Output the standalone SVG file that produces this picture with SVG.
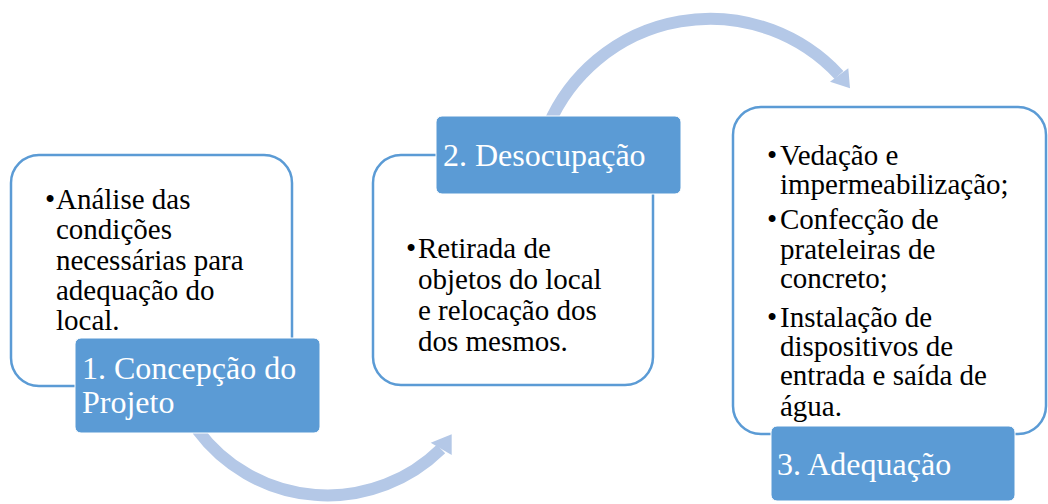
<svg xmlns="http://www.w3.org/2000/svg" width="1048" height="504" viewBox="0 0 1048 504">
  <style>
    .card { fill: #ffffff; stroke: #5B9BD5; stroke-width: 2.5; }
    .label { fill: #5B9BD5; stroke: #ffffff; stroke-width: 1; }
    .body { font-family: "Liberation Serif", "Times New Roman", serif; font-size: 29px; fill: #000000; }
    .title { font-family: "Liberation Serif", "Times New Roman", serif; font-size: 32px; fill: #ffffff; }
    .arc { fill: none; stroke: #B4C8E7; stroke-width: 12; stroke-linecap: butt; }
    .head { fill: #B4C8E7; }
  </style>
  <rect width="1048" height="504" fill="#ffffff"/>
  <g id="connectors">
    <path class="arc" d="M 548.5 125 A 176 176 0 0 1 839 75"/>
    <polygon class="head" points="830,81.7 848.3,68.3 850,88.3"/>
    <path class="arc" d="M 197.5 430 A 162 162 0 0 0 441 449"/>
    <polygon class="head" points="430.7,442.7 451.7,434.3 451.7,455"/>
  </g>
  <g id="node1">
    <rect class="card" x="11" y="155" width="281" height="231" rx="28"/>
    <text class="body" x="45" y="209">•<tspan x="56">Análise das</tspan></text>
    <text class="body" x="56" y="239">condições</text>
    <text class="body" x="56" y="270">necessárias para</text>
    <text class="body" x="56" y="300">adequação do</text>
    <text class="body" x="56" y="330">local.</text>
    <rect class="label" x="75" y="338" width="245" height="95" rx="6"/>
    <text class="title" x="82" y="379">1. Concepção do</text>
    <text class="title" x="82" y="413">Projeto</text>
  </g>
  <g id="node2">
    <rect class="card" x="373" y="155" width="280" height="230" rx="28"/>
    <text class="body" x="406" y="258">•<tspan x="418">Retirada de</tspan></text>
    <text class="body" x="418" y="289">objetos do local</text>
    <text class="body" x="418" y="320">e relocação dos</text>
    <text class="body" x="418" y="351">dos mesmos.</text>
    <rect class="label" x="436" y="116" width="245" height="78" rx="6"/>
    <text class="title" x="443" y="166">2. Desocupação</text>
  </g>
  <g id="node3">
    <rect class="card" x="733" y="107" width="313" height="327" rx="28"/>
    <text class="body" x="767" y="165">•<tspan x="780">Vedação e</tspan></text>
    <text class="body" x="780" y="194">impermeabilização;</text>
    <text class="body" x="767" y="229">•<tspan x="780">Confecção de</tspan></text>
    <text class="body" x="780" y="259">prateleiras de</text>
    <text class="body" x="780" y="288">concreto;</text>
    <text class="body" x="767" y="327">•<tspan x="780">Instalação de</tspan></text>
    <text class="body" x="780" y="356">dispositivos de</text>
    <text class="body" x="780" y="385">entrada e saída de</text>
    <text class="body" x="780" y="416">água.</text>
    <rect class="label" x="771" y="426" width="244" height="75" rx="6"/>
    <text class="title" x="777" y="475">3. Adequação</text>
  </g>
</svg>
